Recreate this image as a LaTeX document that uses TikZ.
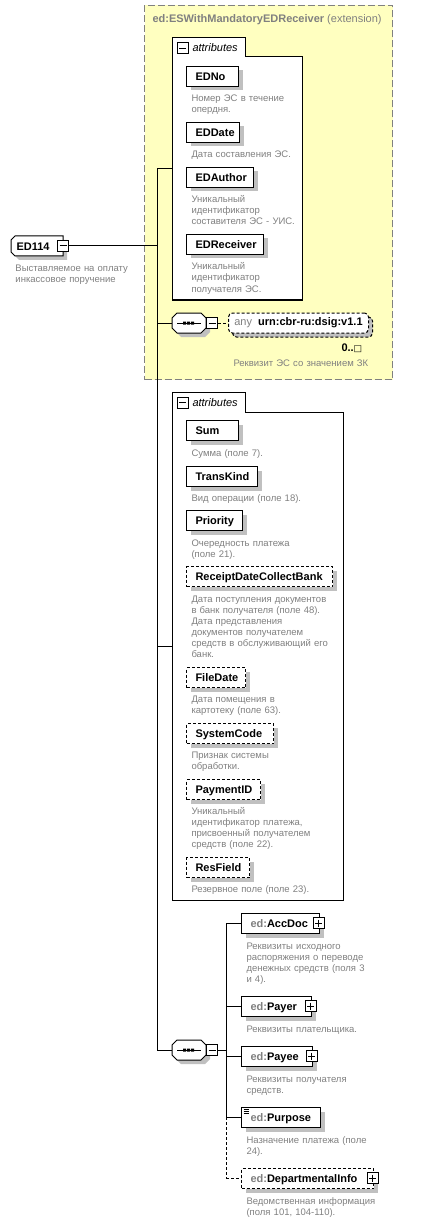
\documentclass[tikz,border=0pt]{standalone}
\usepackage{fontspec}
\setmainfont{Liberation Sans}
\newfontfamily\symfont{DejaVu Sans}
\usetikzlibrary{shadows}
\definecolor{bgyellow}{RGB}{255,255,192}
\definecolor{txtgray}{RGB}{128,128,128}
\definecolor{shgray}{RGB}{192,192,192}
\definecolor{boxgray}{RGB}{128,128,128}
\newcommand\lblfont{\fontsize{11}{13}\selectfont\bfseries}
\newcommand\descfont{\fontsize{9.5}{11}\selectfont}
\newcommand\lbx[2]{\makebox[#1pt][l]{#2}}
\newcommand\edp{\textcolor{txtgray}{ed:}}
\begin{document}
\begin{tikzpicture}[x=1pt,y=-1pt,line width=1pt,
  shadowed/.style={drop shadow={shadow xshift=4pt,shadow yshift=-4pt,fill=shgray,opacity=1}},
  elem/.style={draw,fill=white,anchor=north west,minimum height=20pt,inner xsep=9pt,inner ysep=0pt,
    text height=9pt,text depth=1pt,font=\lblfont,shadowed},
  optelem/.style={elem,dash pattern=on 3pt off 2pt},
  desc/.style={anchor=base west,inner sep=0pt,text=txtgray,font=\descfont,text width=200pt,align=left},
  iconbox/.style={draw,fill=white,minimum size=11pt,inner sep=0pt,line width=1pt},
  minusicon/.style={iconbox,path picture={\draw[line width=1pt] ([xshift=2pt]path picture bounding box.west)--([xshift=-2pt]path picture bounding box.east);}},
  plusicon/.style={iconbox,path picture={\draw[line width=1pt] ([xshift=2pt]path picture bounding box.west)--([xshift=-2pt]path picture bounding box.east);
      \draw[line width=1pt] ([yshift=-2pt]path picture bounding box.north)--([yshift=2pt]path picture bounding box.south);}},
  optconn/.style={dash pattern=on 3pt off 2pt},
  grouplbl/.style={anchor=base west,inner sep=0pt,font=\fontsize{11}{13}\selectfont\itshape},
  plain/.style={anchor=base west,inner sep=0pt}
]
\useasboundingbox (0,0) rectangle (432,1222);

% extension box
\node[draw=boxgray,fill=bgyellow,dash pattern=on 7pt off 3pt,anchor=north west,minimum width=248pt,minimum height=374pt,inner sep=0pt] (ext) at (144,5) {};
\node[plain,text=txtgray,font=\fontsize{11}{13}\selectfont] (exttitle) at (152,23) {\textbf{ed:ESWithMandatoryEDReceiver} (extension)};

% spine coordinates
\coordinate (spineA) at (157,169);
\coordinate (spineB) at (157,1050);
\draw (spineA) -- (spineB);

% ED114 root
\fill[shgray] (19,240) -- (67,240) -- (67,260) -- (19,260) -- (15,256) -- (15,244) -- cycle;
\draw[fill=white] (15,236) -- (63,236) -- (63,256) -- (15,256) -- (11,252) -- (11,240) -- cycle;
\node[anchor=north west,minimum height=20pt,inner xsep=5pt,inner ysep=0pt,text height=9pt,text depth=1pt,font=\lblfont] (ED114) at (11,236) {\lbx{42}{ED114}};
\node[minusicon] (ED114min) at (63,246) {};
\draw (ED114min.east) -- (ED114min.east -| spineA);
\node[desc] (ED114d) at (15,272) {Выставляемое на оплату\\инкассовое поручение};

% attributes group 1
\draw[fill=white] (172,38) -| (245,57) -| (302,300) -| (172,38) -- cycle;
\node[minusicon] (attr1min) at (182.5,48.5) {};
\node[grouplbl] (attr1lbl) at (192,52) {attributes};
\coordinate (attr1in) at (172,169);
\draw (spineA) -- (attr1in);

\node[elem] (EDNo) at (186,66) {\lbx{34}{EDNo}};
\node[desc] (EDNod) at (191,102) {Номер ЭС в течение\\опердня.};
\node[elem] (EDDate) at (186,122) {\lbx{35}{EDDate}};
\node[desc] (EDDated) at (191,158) {Дата составления ЭС.};
\node[elem] (EDAuthor) at (186,167) {\lbx{49}{EDAuthor}};
\node[desc] (EDAuthord) at (191,203) {Уникальный\\идентификатор\\составителя ЭС - УИС.};
\node[elem] (EDReceiver) at (186,234) {\lbx{59}{EDReceiver}};
\node[desc] (EDReceiverd) at (191,270) {Уникальный\\идентификатор\\получателя ЭС.};

% sequence 1 with any
\fill[shgray] (181,317) -- (205,317) -- (210,322) -- (210,332) -- (205,337) -- (181,337) -- (176,332) -- (176,322) -- cycle;
\draw[fill=white] (177,313) -- (201,313) -- (206,318) -- (206,328) -- (201,333) -- (177,333) -- (172,328) -- (172,318) -- cycle;
\node[minimum width=34pt,minimum height=20pt,inner sep=0pt] (seq1) at (189,323) {};
\draw (177,323) -- (201,323);
\fill (183,321.5) rectangle (186,324.5) (187,321.5) rectangle (190,324.5) (191,321.5) rectangle (194,324.5);
\node[minusicon] (seq1min) at (212,323) {};
\draw (seq1.west -| spineA) -- (seq1.west);
\node[draw,dash pattern=on 3pt off 2pt,rounded corners=4pt,fill=white,anchor=west,minimum width=140pt,minimum height=20pt,inner sep=0pt,
  drop shadow={shadow xshift=4pt,shadow yshift=-4pt,fill=shgray,opacity=1,draw=black,dash pattern=on 3pt off 2pt}] (any) at (228,323)
  {\textcolor{txtgray}{\fontsize{11}{13}\selectfont any}\hspace{6pt}{\lblfont urn:cbr-ru:dsig:v1.1}};
\draw[optconn] (seq1min.east) -- (any.west);
\node[plain,font=\lblfont] (mult) at (341,351) {0..{\symfont\mdseries\fontsize{9}{11}\selectfont □}};
\node[desc] (anyd) at (233,366) {Реквизит ЭС со значением ЗК};

% attributes group 2
\draw[fill=white] (172,392) -| (245,412) -| (343,900) -| (172,392) -- cycle;
\node[minusicon] (attr2min) at (182.5,402.5) {};
\node[grouplbl] (attr2lbl) at (192,406) {attributes};
\coordinate (attr2in) at (172,646);
\draw (attr2in -| spineA) -- (attr2in);

\node[elem] (Sum) at (186,420) {\lbx{34}{Sum}};
\node[desc] (Sumd) at (191,456) {Сумма (поле 7).};
\node[elem] (TransKind) at (186,466) {\lbx{53}{TransKind}};
\node[desc] (TransKindd) at (191,501) {Вид операции (поле 18).};
\node[elem] (Priority) at (186,510) {\lbx{38}{Priority}};
\node[desc] (Priorityd) at (191,546) {Очередность платежа\\(поле 21).};
\node[optelem] (Receipt) at (186,566) {\lbx{128}{ReceiptDateCollectBank}};
\node[desc] (Receiptd) at (191,602) {Дата поступления документов\\в банк получателя (поле 48).\\Дата представления\\документов получателем\\средств в обслуживающий его\\банк.};
\node[optelem] (FileDate) at (186,667) {\lbx{41}{FileDate}};
\node[desc] (FileDated) at (191,702) {Дата помещения в\\картотеку (поле 63).};
\node[optelem] (SystemCode) at (186,723) {\lbx{69}{SystemCode}};
\node[desc] (SystemCoded) at (191,758) {Признак системы\\обработки.};
\node[optelem] (PaymentID) at (186,779) {\lbx{56}{PaymentID}};
\node[desc] (PaymentIDd) at (191,814) {Уникальный\\идентификатор платежа,\\присвоенный получателем\\средств (поле 22).};
\node[optelem] (ResField) at (186,857) {\lbx{45}{ResField}};
\node[desc] (ResFieldd) at (191,892) {Резервное поле (поле 23).};

% sequence 2
\fill[shgray] (181,1044) -- (205,1044) -- (210,1049) -- (210,1059) -- (205,1064) -- (181,1064) -- (176,1059) -- (176,1049) -- cycle;
\draw[fill=white] (177,1040) -- (201,1040) -- (206,1045) -- (206,1055) -- (201,1060) -- (177,1060) -- (172,1055) -- (172,1045) -- cycle;
\node[minimum width=34pt,minimum height=20pt,inner sep=0pt] (seq2) at (189,1050) {};
\draw (177,1050) -- (201,1050);
\fill (183,1048.5) rectangle (186,1051.5) (187,1048.5) rectangle (190,1051.5) (191,1048.5) rectangle (194,1051.5);
\node[minusicon] (seq2min) at (212,1050) {};
\draw (spineB) -- (seq2.west);

\coordinate (sp2a) at (226,923);
\coordinate (sp2b) at (226,1117);
\coordinate (sp2c) at (226,1178);
\draw (sp2a) -- (sp2b);
\draw[optconn] (sp2b) -- (sp2c);
\draw (seq2min.east) -- (seq2min.east -| sp2a);

\node[elem] (AccDoc) at (241,913) {\lbx{60}{\edp AccDoc}};
\node[plusicon] (AccDocp) at (318.5,923) {};
\node[desc] (AccDocd) at (246,949) {Реквизиты исходного\\распоряжения о переводе\\денежных средств (поля 3\\и 4).};
\node[elem] (Payer) at (241,996) {\lbx{52}{\edp Payer}};
\node[plusicon] (Payerp) at (310.5,1006) {};
\node[desc] (Payerd) at (246,1032) {Реквизиты плательщика.};
\node[elem] (Payee) at (241,1046) {\lbx{53}{\edp Payee}};
\node[plusicon] (Payeep) at (311.5,1056) {};
\node[desc] (Payeed) at (246,1082) {Реквизиты получателя\\средств.};
\node[elem] (Purpose) at (241,1107) {\lbx{61}{\edp Purpose}};
\draw[line width=0.8pt] ([shift={(2.5,2.5)}]Purpose.north west) -- ++(5,0) ([shift={(2.5,4.5)}]Purpose.north west) -- ++(5,0) ([shift={(2.5,6.5)}]Purpose.north west) -- ++(5,0);
\node[desc] (Purposed) at (246,1143) {Назначение платежа (поле\\24).};
\node[optelem] (DepInfo) at (241,1168) {\lbx{114}{\edp DepartmentalInfo}};
\node[plusicon] (DepInfop) at (372.5,1178) {};
\node[desc] (DepInfod) at (246,1204) {Ведомственная информация\\(поля 101, 104-110).};

\draw (AccDoc.west -| sp2a) -- (AccDoc.west);
\draw (Payer.west -| sp2a) -- (Payer.west);
\draw (Payee.west -| sp2a) -- (Payee.west);
\draw (Purpose.west -| sp2a) -- (Purpose.west);
\draw[optconn] (DepInfo.west -| sp2a) -- (DepInfo.west);
\end{tikzpicture}
\end{document}
